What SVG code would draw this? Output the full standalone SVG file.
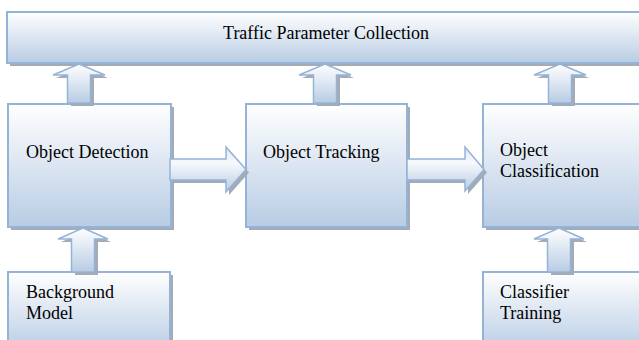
<svg xmlns="http://www.w3.org/2000/svg" width="639" height="340" viewBox="0 0 639 340">
<defs>
<linearGradient id="gBox" x1="0" y1="0" x2="0" y2="1">
<stop offset="0" stop-color="#ffffff"/>
<stop offset="1" stop-color="#b8cce4"/>
</linearGradient>
<linearGradient id="gUp" x1="0" y1="0" x2="0" y2="1">
<stop offset="0" stop-color="#ffffff"/>
<stop offset="1" stop-color="#b8cce4"/>
</linearGradient>
<linearGradient id="gRight" x1="0" y1="0" x2="0" y2="1">
<stop offset="0" stop-color="#dce6f2"/>
<stop offset="0.35" stop-color="#f7f9fc"/>
<stop offset="1" stop-color="#b8cce4"/>
</linearGradient>
</defs>
<style>
.box{fill:url(#gBox);stroke:#95b3d7;stroke-width:2}
.shadow{fill:#a3abb6}
.up{fill:url(#gUp);stroke:#95b3d7;stroke-width:1.5;stroke-linejoin:miter}
.right{fill:url(#gRight);stroke:#95b3d7;stroke-width:1.5;stroke-linejoin:miter}
.lbl{font-family:"Liberation Serif","Times New Roman",serif;font-size:18px;fill:#000}
</style>
<rect width="639" height="340" fill="#ffffff"/>

<g id="traffic-parameter-collection">
<rect class="shadow" x="10" y="15" width="640" height="51"/>
<rect class="box" x="7" y="12" width="640" height="51"/>
<text class="lbl" x="326" y="39" text-anchor="middle">Traffic Parameter Collection</text>
</g>

<g id="object-detection">
<rect class="shadow" x="11" y="107" width="163" height="123"/>
<rect class="box" x="8" y="104" width="163" height="123"/>
<text class="lbl" x="26" y="158">Object Detection</text>
</g>

<g id="object-tracking">
<rect class="shadow" x="249" y="107" width="161" height="123"/>
<rect class="box" x="246" y="104" width="161" height="123"/>
<text class="lbl" x="263" y="158">Object Tracking</text>
</g>

<g id="object-classification">
<rect class="shadow" x="486" y="107" width="170" height="123"/>
<rect class="box" x="483" y="104" width="170" height="123"/>
<text class="lbl" x="500" y="156">Object</text>
<text class="lbl" x="500" y="177">Classification</text>
</g>

<g id="background-model">
<rect class="shadow" x="11" y="275" width="162" height="80"/>
<rect class="box" x="8" y="272" width="162" height="80"/>
<text class="lbl" x="26" y="298">Background</text>
<text class="lbl" x="26" y="319">Model</text>
</g>

<g id="classifier-training">
<rect class="shadow" x="486" y="275" width="170" height="80"/>
<rect class="box" x="483" y="272" width="170" height="80"/>
<text class="lbl" x="500" y="298">Classifier</text>
<text class="lbl" x="500" y="319">Training</text>
</g>

<g id="connectors">
<!-- up arrows to Traffic Parameter Collection -->
<path class="shadow" d="M82,67 L108,78 L94,78 L94,106 L71,106 L71,78 L56,78 Z"/>
<path class="up" d="M79,64 L105,75 L90.5,75 L90.5,103 L67.5,103 L67.5,75 L53,75 Z"/>
<path class="shadow" d="M328,67 L354,78 L340,78 L340,106 L317,106 L317,78 L302,78 Z"/>
<path class="up" d="M325,64 L351,75 L336.5,75 L336.5,103 L313.5,103 L313.5,75 L299,75 Z"/>
<path class="shadow" d="M563,67 L589,78 L575,78 L575,106 L552,106 L552,78 L537,78 Z"/>
<path class="up" d="M560,64 L586,75 L571.5,75 L571.5,103 L548.5,103 L548.5,75 L534,75 Z"/>
<!-- up arrows from bottom boxes -->
<path class="shadow" d="M86,231 L111,242 L98,242 L98,275 L75,275 L75,242 L61,242 Z"/>
<path class="up" d="M83,228 L108,239 L94.5,239 L94.5,272 L71.5,272 L71.5,239 L58,239 Z"/>
<path class="shadow" d="M562,231 L587,242 L574,242 L574,275 L551,275 L551,242 L537,242 Z"/>
<path class="up" d="M559,228 L584,239 L570.5,239 L570.5,272 L547.5,272 L547.5,239 L534,239 Z"/>
<!-- right arrows -->
<path class="shadow" d="M173,162 L229,162 L229,150 L249,172.5 L229,195 L229,183 L173,183 Z"/>
<path class="right" d="M170,159 L226,159 L226,147 L246,169.5 L226,192 L226,180 L170,180 Z"/>
<path class="shadow" d="M410,162 L468,162 L468,150 L487,172.5 L468,194 L468,183 L410,183 Z"/>
<path class="right" d="M407,159 L465,159 L465,147 L484,169.5 L465,191 L465,180 L407,180 Z"/>
</g>
</svg>
